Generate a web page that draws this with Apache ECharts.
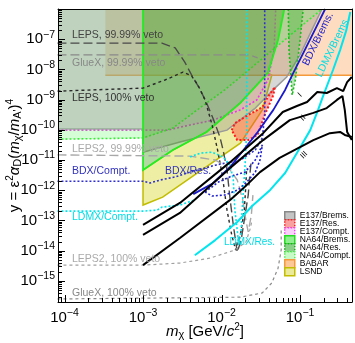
<!DOCTYPE html>
<html>
<head>
<meta charset="utf-8">
<script src="https://cdn.jsdelivr.net/npm/echarts@6/dist/echarts.min.js"></script>
<style>
html, body { margin: 0; padding: 0; background: #fff; }
#container { width: 355px; height: 343px; }
</style>
</head>
<body>
<div id="container"></div>
<script>
// all values are log10: x = log10(m_chi / GeV), y = log10(y)
var xMin = -4.083, xMax = -0.338, yMin = -15.7, yMax = -6.0;
var FONT = '"Liberation Sans", Arial, sans-serif';

// excluded regions (boundary curves)
var e137BremsEdge = [[-4.09,-9.97],[-3.00,-9.97],[-3.00,-10.74],[-2.53,-10.40],[-1.93,-10.01],[-1.57,-9.28],[-1.32,-8.62],[-1.17,-8.25],[-1.00,-7.52],[-0.85,-6.70],[-0.72,-6.00]];
var e137ComptEdge = [[-4.09,-10.01],[-2.69,-10.01],[-2.40,-9.84],[-2.11,-9.68],[-1.76,-9.34],[-1.55,-9.01],[-1.41,-8.35],[-1.33,-7.36],[-1.31,-6.00]];
var e137ResEdge = [[-1.87,-10.01],[-1.83,-9.78],[-1.66,-9.51],[-1.48,-9.25],[-1.41,-8.91],[-1.32,-8.58],[-1.34,-8.85],[-1.45,-9.51],[-1.54,-10.17],[-1.66,-10.34],[-1.80,-10.34],[-1.87,-10.01]];
var na64BremsEdge = [[-3.00,-6.00],[-3.00,-11.33],[-2.62,-10.67],[-2.19,-10.07],[-1.76,-9.11],[-1.41,-8.12],[-1.28,-7.03],[-1.20,-6.00]];
var na64ResEdge = [[-1.15,-6.00],[-1.14,-7.36],[-1.10,-8.85],[-1.06,-8.35],[-1.00,-7.03],[-0.96,-6.00]];
var na64ComptEdge = [[-4.09,-10.31],[-3.00,-10.27],[-2.62,-9.94],[-2.19,-9.11],[-1.96,-8.68],[-1.76,-8.25],[-1.26,-7.16],[-0.72,-6.00]];
var babarEdge = [[-3.48,-8.19],[-0.30,-8.19]];
var lsndEdge = [[-3.00,-11.33],[-3.00,-12.49],[-2.75,-12.23],[-1.76,-10.44],[-1.48,-9.34],[-1.41,-8.68],[-1.36,-8.19],[-1.41,-8.12],[-1.76,-9.11],[-2.19,-10.07],[-2.62,-10.67],[-3.00,-11.33]];

// projected sensitivities
var lepsVeto9999 = [[-4.09,-7.13],[-2.76,-7.13],[-2.59,-7.29],[-2.47,-7.75],[-2.38,-8.19],[-2.27,-8.68],[-2.19,-9.11],[-2.11,-9.61],[-2.02,-10.24],[-1.98,-10.67],[-1.93,-11.33],[-1.89,-12.32],[-1.85,-13.15],[-1.80,-14.05],[-1.75,-13.65],[-1.70,-12.82],[-1.66,-12.16],[-1.64,-11.50],[-1.62,-11.00]];
var lepsVeto100 = [[-4.09,-8.72],[-3.00,-8.62],[-2.72,-8.35],[-2.49,-8.09],[-2.38,-8.22],[-2.30,-8.52],[-2.21,-9.01],[-2.12,-9.84],[-2.05,-10.67],[-1.99,-11.50],[-1.93,-12.66],[-1.87,-13.48],[-1.82,-13.98],[-1.76,-13.48],[-1.71,-12.66],[-1.69,-11.83],[-1.68,-11.26]];
var gluexVeto9999 = [[-4.09,-7.52],[-1.64,-7.52],[-1.54,-7.62]];
var leps2Veto9999 = [[-4.09,-10.83],[-2.40,-10.87],[-2.08,-11.00],[-1.92,-11.23],[-1.80,-11.66],[-1.73,-12.32],[-1.69,-12.99],[-1.66,-13.38],[-1.62,-12.82],[-1.60,-12.16]];
var leps2Veto100 = [[-4.09,-14.48],[-3.00,-14.48],[-2.53,-14.41],[-2.15,-14.25],[-1.83,-13.98],[-1.69,-13.72],[-1.64,-13.32],[-1.61,-12.99]];
var gluexVeto100 = [[-4.09,-15.60],[-1.76,-15.54],[-1.48,-15.40],[-1.36,-15.07],[-1.28,-14.58],[-1.24,-13.98],[-1.24,-13.25]];
var bdxBrems = [[-2.36,-12.13],[-2.12,-11.79],[-1.89,-11.23],[-1.55,-10.11],[-1.34,-9.34],[-1.19,-8.68],[-1.10,-8.19],[-0.94,-7.36],[-0.80,-6.63],[-0.68,-6.00]];
var bdxCompt = [[-4.09,-11.70],[-3.00,-11.70],[-2.91,-11.76],[-2.78,-11.66],[-2.59,-11.56],[-2.40,-11.40],[-2.08,-11.17],[-1.76,-11.00],[-1.57,-10.67],[-1.48,-10.27],[-1.45,-9.51],[-1.45,-6.00]];
var bdxRes = [[-2.21,-12.06],[-2.04,-11.73],[-1.87,-11.53],[-1.70,-11.40],[-1.57,-11.00],[-1.48,-10.50],[-1.51,-11.00],[-1.57,-11.40],[-1.68,-11.73],[-1.79,-11.99],[-1.96,-12.16],[-2.12,-12.19],[-2.21,-12.06]];
var ldmxBrems = [[-2.34,-14.15],[-2.08,-13.65],[-1.80,-13.05],[-1.61,-12.52],[-1.38,-11.99],[-1.19,-11.43],[-1.04,-10.77],[-0.87,-10.01],[-0.77,-9.34],[-0.71,-8.91],[-0.58,-8.02],[-0.49,-7.36],[-0.41,-6.70],[-0.36,-6.10]];
var ldmxCompt = [[-4.09,-12.69],[-3.00,-12.69],[-2.82,-12.66],[-2.76,-12.56],[-2.53,-12.49],[-2.34,-12.32]];
var ldmxRes = [[-2.40,-10.90],[-2.27,-10.77],[-2.12,-10.74],[-1.98,-10.90],[-1.89,-11.17],[-1.85,-11.66],[-1.83,-12.66],[-1.80,-13.32],[-1.78,-13.81],[-1.75,-13.32],[-1.73,-12.32],[-1.70,-11.17],[-1.68,-10.01],[-1.68,-6.00]];
var sensI = [[-3.00,-13.15],[-2.53,-12.42],[-1.89,-11.07],[-1.47,-10.11],[-1.22,-9.41],[-1.04,-9.21],[-0.91,-9.08],[-0.78,-8.75],[-0.66,-8.78],[-0.53,-8.62],[-0.45,-8.72],[-0.40,-8.42],[-0.34,-8.25]];
var sensII = [[-3.00,-13.48],[-2.53,-12.75],[-1.89,-11.26],[-1.47,-10.34],[-1.13,-9.68],[-0.83,-9.44],[-0.66,-9.28],[-0.53,-9.01],[-0.46,-8.88],[-0.43,-9.34],[-0.40,-10.07],[-0.34,-10.34]];
var sensIII = [[-3.00,-14.48],[-2.53,-13.58],[-1.89,-12.32],[-1.72,-11.93],[-1.51,-11.40],[-1.26,-10.93],[-0.83,-10.34],[-0.62,-10.11],[-0.49,-10.07],[-0.43,-10.17],[-0.34,-10.24]];

// filled region: polygon = edge + closing corners, stroke only along the edge
function region(name, edge, closing, fill, stroke, dash, width) {
    return {
        type: 'custom', name: name, coordinateSystem: 'cartesian2d', clip: true, silent: true,
        itemStyle: { color: fill },
        data: [edge[0]],
        renderItem: function (params, api) {
            var e = edge.map(function (d) { return api.coord(d); });
            var all = e.concat(closing.map(function (d) { return api.coord(d); }));
            return {
                type: 'group', children: [
                    { type: 'polygon', shape: { points: all }, style: { fill: fill } },
                    { type: 'polyline', shape: { points: e }, style: { fill: 'none', stroke: stroke, lineWidth: width, lineDash: dash } }
                ]
            };
        }
    };
}

function curve(name, data, color, type, width) {
    return {
        type: 'line', name: name, data: data, showSymbol: false, silent: true, z: 3,
        lineStyle: { color: color, type: type, width: width }
    };
}

// plain text annotation, left/top of its box
function note(text, left, top, color, size) {
    return {
        type: 'text', left: left, top: top, z: 100,
        style: { text: text, fill: color, font: size + 'px ' + FONT }
    };
}
// rotated annotation around its centre
function rnote(text, x, y, color, size, rot) {
    return {
        type: 'text', x: x, y: y, z: 100, rotation: rot,
        style: { text: text, fill: color, font: size + 'px ' + FONT, align: 'center', verticalAlign: 'middle' }
    };
}

var dotted = [2, 2];
var corner = [[xMin - 0.1, yMax + 0.3]];

var tickData = [];
for (var d = -5; d <= 0; d++) {
    for (var k = 1; k < 10; k++) {
        var v = d + Math.log10(k);
        if (v > xMin && v < xMax) tickData.push([v, 0, k === 1 ? 1 : 0]);
    }
}
for (var d2 = -16; d2 <= -6; d2++) {
    for (var k2 = 1; k2 < 10; k2++) {
        var v2 = d2 + Math.log10(k2);
        if (v2 > yMin && v2 < yMax) tickData.push([v2, 1, k2 === 1 ? 1 : 0]);
    }
}

function expLabel(v) {
    if (Math.abs(v - Math.round(v)) > 1e-6) return '';
    return '{b|10}{e|\u2212' + Math.abs(Math.round(v)) + '}';
}
var labelRich = {
    b: { fontSize: 15, fontFamily: FONT, color: '#000' },
    e: { fontSize: 10.5, fontFamily: FONT, color: '#000', padding: [0, 0, 9, 0] }
};
var nameRich = {
    i: { fontSize: 15, fontStyle: 'italic', fontFamily: FONT },
    sub: { fontSize: 11, fontFamily: FONT, padding: [7, 0, 0, 0] },
    sup: { fontSize: 10, fontFamily: FONT, padding: [0, 0, 9, 0] }
};

var dom = document.getElementById('container');
var myChart = echarts.init(dom, null, { renderer: 'canvas' });

option = {
    animation: false,
    grid: { left: 58, right: 3, top: 9, bottom: 41, containLabel: false, outerBoundsMode: 'none' },
    xAxis: [{
        type: 'value', min: xMin, max: xMax, z: 5,
        axisLine: { show: true, onZero: false, lineStyle: { color: '#000', width: 1 } },
        axisTick: { show: false }, splitLine: { show: false },
        axisLabel: { margin: 6, formatter: expLabel, rich: labelRich, showMinLabel: false, showMaxLabel: false },
        name: '{i|m}{sub|\u03c7} [GeV/{i|c}{sup|2}]', nameLocation: 'middle', nameGap: 20, nameMoveOverlap: false,
        nameTextStyle: { fontSize: 15, fontFamily: FONT, color: '#000', rich: nameRich }
    }, {
        type: 'value', position: 'top', min: xMin, max: xMax, z: 5,
        axisLine: { show: true, onZero: false, lineStyle: { color: '#000', width: 1 } },
        axisTick: { show: false }, splitLine: { show: false }, axisLabel: { show: false }
    }],
    yAxis: [{
        type: 'value', min: yMin, max: yMax, splitNumber: 10, z: 5,
        axisLine: { show: true, onZero: false, lineStyle: { color: '#000', width: 1 } },
        axisTick: { show: false }, splitLine: { show: false },
        axisLabel: { margin: 3, formatter: expLabel, rich: labelRich, showMinLabel: false, showMaxLabel: false },
        name: 'y = \u03b5{sup|2}{i|\u03b1}{sub|D}({i|m}{sub|\u03c7}/{i|m}{sub|A\'}){sup|4}',
        nameLocation: 'middle', nameGap: 34, nameRotate: 90, nameMoveOverlap: false,
        nameTextStyle: { fontSize: 15, fontFamily: FONT, color: '#000', rich: nameRich }
    }, {
        type: 'value', position: 'right', min: yMin, max: yMax, z: 5,
        axisLine: { show: true, onZero: false, lineStyle: { color: '#000', width: 1 } },
        axisTick: { show: false }, splitLine: { show: false }, axisLabel: { show: false }
    }],
    legend: {
        orient: 'vertical', left: 284, top: 211, itemWidth: 10, itemHeight: 8, itemGap: -1.5,
        icon: 'rect', selectedMode: false, padding: 0,
        textStyle: { fontSize: 8.5, fontFamily: FONT, color: '#000' },
        data: [
            { name: 'E137/Brems.', itemStyle: { color: '#c4c4c4', borderColor: '#888', borderWidth: 1.5 } },
            { name: 'E137/Res.', itemStyle: { color: '#f9a0a0', borderColor: '#ff2020', borderWidth: 1.5, borderType: 'dotted' } },
            { name: 'E137/Compt.', itemStyle: { color: '#fad0fa', borderColor: '#ee44ee', borderWidth: 1.5, borderType: 'dotted' } },
            { name: 'NA64/Brems.', itemStyle: { color: '#90ee90', borderColor: '#22dd22', borderWidth: 1.5 } },
            { name: 'NA64/Res.', itemStyle: { color: '#88d088', borderColor: '#22aa22', borderWidth: 1.5, borderType: 'dotted' } },
            { name: 'NA64/Compt.', itemStyle: { color: '#c8fac8', borderColor: '#55ee55', borderWidth: 1.5, borderType: 'dotted' } },
            { name: 'BABAR', itemStyle: { color: '#fcc898', borderColor: '#f59a3a', borderWidth: 1.5 } },
            { name: 'LSND', itemStyle: { color: '#eaea9a', borderColor: '#c2bd00', borderWidth: 1.5 } }
        ]
    },
    series: [
        region('LSND', lsndEdge, [], 'rgba(215,215,40,0.42)', '#c2bd00', null, 1.5),
        region('BABAR', babarEdge, [[xMax + 0.1, yMax + 0.3], [babarEdge[0][0], yMax + 0.3]], 'rgba(250,150,60,0.33)', '#f59a3a', null, 1.5),
        region('E137/Brems.', e137BremsEdge, corner, 'rgba(130,130,130,0.32)', '#9a9a9a', null, 1.5),
        region('E137/Compt.', e137ComptEdge, corner, 'rgba(255,110,255,0.18)', '#ee33ee', dotted, 1.6),
        region('NA64/Compt.', na64ComptEdge, corner, 'rgba(90,250,90,0.25)', '#33ee33', dotted, 1.6),
        region('NA64/Brems.', na64BremsEdge, [], 'rgba(70,165,30,0.42)', '#22ee22', null, 1.8),
        region('NA64/Res.', na64ResEdge, [], 'rgba(30,180,30,0.3)', '#22bb22', dotted, 1.6),
        region('E137/Res.', e137ResEdge, [], 'rgba(255,60,50,0.42)', '#ff1a1a', dotted, 2),

        curve('LEPS 99.99', lepsVeto9999, '#4a4a4a', [9, 4], 1.4),
        curve('LEPS 100', lepsVeto100, '#2a2a2a', [3, 3], 1.4),
        curve('GlueX 99.99', gluexVeto9999, '#8a8a8a', [9, 4], 1.4),
        curve('LEPS2 99.99', leps2Veto9999, '#a8a8a8', [9, 4], 1.4),
        curve('LEPS2 100', leps2Veto100, '#a0a0a0', [3, 3], 1.2),
        curve('GlueX 100', gluexVeto100, '#8a8a8a', [3, 3], 1.2),
        curve('BDX Compt', bdxCompt, '#3030cc', dotted, 1.6),
        curve('BDX Res', bdxRes, '#2020cc', dotted, 1.6),
        curve('LDMX Compt', ldmxCompt, '#00e5ee', dotted, 1.6),
        curve('LDMX Res', ldmxRes, '#00e5ee', dotted, 1.6),
        curve('LDMX Brems', ldmxBrems, '#00e5ee', 'solid', 2),
        curve('BDX Brems', bdxBrems, '#1a1acc', 'solid', 1.8),
        curve('I', sensI, '#000', 'solid', 2),
        curve('II', sensII, '#000', 'solid', 2),
        curve('III', sensIII, '#000', 'solid', 2),
        {
            type: 'custom', name: 'ticks', silent: true, z: 6, clip: false,
            data: tickData,
            renderItem: function (params, api) {
                var cs = params.coordSys;
                var len = api.value(2) ? 7 : 4;
                if (api.value(1) === 0) {
                    var px = Math.round(api.coord([api.value(0), yMin])[0]) + 0.5;
                    var by = cs.y + cs.height;
                    return { type: 'line', shape: { x1: px, y1: by, x2: px, y2: by - len }, style: { stroke: '#000', lineWidth: 1 } };
                }
                var py = Math.round(api.coord([xMin, api.value(0)])[1]) + 0.5;
                return { type: 'line', shape: { x1: cs.x, y1: py, x2: cs.x + len, y2: py }, style: { stroke: '#000', lineWidth: 1 } };
            }
        }
    ],
    graphic: [
        note('LEPS, 99.99% veto', 72, 30, '#444', 10.5),
        note('GlueX, 99.99% veto', 72, 58, '#888', 10.5),
        note('LEPS, 100% veto', 72, 93, '#333', 10.5),
        note('LEPS2, 99.99% veto', 72, 144, '#aaa', 10.5),
        note('BDX/Compt.', 72, 166, '#3333bb', 10.5),
        note('LDMX/Compt.', 72, 212, '#00dde6', 10.5),
        note('LEPS2, 100% veto', 72, 254, '#aaa', 10.5),
        note('GlueX, 100% veto', 72, 288, '#888', 10.5),
        note('BDX/Res.', 165, 166, '#3333bb', 10.5),
        note('LDMX/Res.', 224, 237, '#00dde6', 10),
        rnote('BDX/Brems.', 318, 39, '#2222cc', 10.5, 64 * Math.PI / 180),
        rnote('LDMX/Brems.', 333, 47, '#00dde6', 10.5, 64 * Math.PI / 180),
        rnote('I', 300, 95, '#000', 8, Math.PI / 4),
        rnote('II', 303, 118, '#000', 8, Math.PI / 4),
        rnote('III', 304, 155, '#000', 8, Math.PI / 4)
    ]
};

if (option && typeof option === "object") {
    myChart.setOption(option, true);
}
</script>
</body>
</html>
